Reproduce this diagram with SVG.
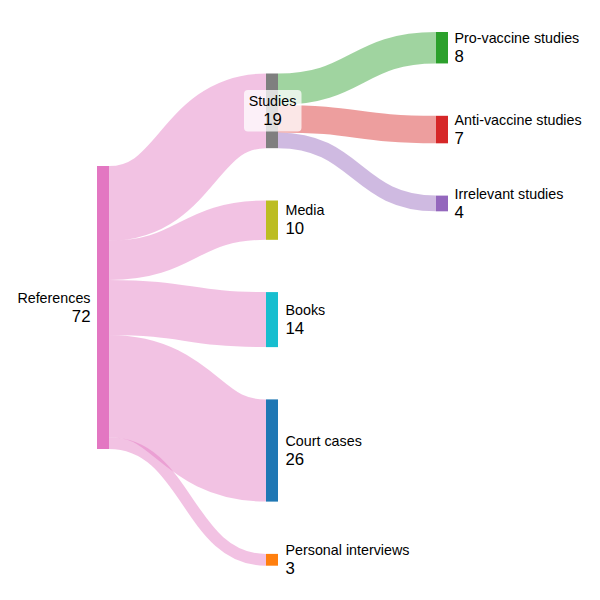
<svg xmlns="http://www.w3.org/2000/svg" width="600" height="600" viewBox="0 0 600 600">
<style>
.lk{fill:none;stroke-opacity:0.45}
.nm{font-family:"Liberation Sans",Arial,sans-serif;font-size:14.3px;fill:#000}
.nv{font-family:"Liberation Sans",Arial,sans-serif;font-size:16.8px;fill:#000}
</style>
<rect width="600" height="600" fill="#ffffff"/>
<g id="links">
<path class="lk" stroke="#e377c2" stroke-width="74.68" d="M109,203.34 C187.5,203.34 187.5,110.85 266,110.85"/>
<path class="lk" stroke="#e377c2" stroke-width="39.31" d="M109,260.34 C187.5,260.34 187.5,220.15 266,220.15"/>
<path class="lk" stroke="#e377c2" stroke-width="55.03" d="M109,307.5 C187.5,307.5 187.5,319.6 266,319.6"/>
<path class="lk" stroke="#e377c2" stroke-width="102.2" d="M109,386.12 C187.5,386.12 187.5,450.5 266,450.5"/>
<path class="lk" stroke="#e377c2" stroke-width="11.79" d="M109,443.12 C187.5,443.12 187.5,559.8 266,559.8"/>
<path class="lk" stroke="#2ca02c" stroke-width="31.44" d="M278,89.22 C357,89.22 357,47.72 436,47.72"/>
<path class="lk" stroke="#d62728" stroke-width="27.51" d="M278,118.7 C357,118.7 357,129.55 436,129.55"/>
<path class="lk" stroke="#9467bd" stroke-width="15.72" d="M278,140.31 C357,140.31 357,203.45 436,203.45"/>
</g>
<g id="node-references">
<rect x="97" y="166" width="12" height="283" fill="#e377c2"/>
<text class="nm" x="90.5" y="302.5" text-anchor="end">References</text>
<text class="nv" x="90.5" y="321.5" text-anchor="end">72</text>
</g>
<g id="node-studies">
<rect x="266" y="73.5" width="12" height="74.68" fill="#7f7f7f"/>
<rect x="244" y="90" width="57.5" height="41.5" rx="4" fill="#ffffff" fill-opacity="0.75"/>
<text class="nm" x="272.5" y="106" text-anchor="middle">Studies</text>
<text class="nv" x="272.5" y="124.5" text-anchor="middle">19</text>
</g>
<g id="node-media">
<rect x="266" y="200.5" width="12" height="39.31" fill="#bcbd22"/>
<text class="nm" x="285.5" y="215.2">Media</text>
<text class="nv" x="285.5" y="234.2">10</text>
</g>
<g id="node-books">
<rect x="266" y="292.1" width="12" height="55.03" fill="#17becf"/>
<text class="nm" x="285.5" y="314.6">Books</text>
<text class="nv" x="285.5" y="333.6">14</text>
</g>
<g id="node-court">
<rect x="266" y="399.4" width="12" height="102.2" fill="#1f77b4"/>
<text class="nm" x="285.5" y="445.5">Court cases</text>
<text class="nv" x="285.5" y="464.5">26</text>
</g>
<g id="node-personal">
<rect x="266" y="553.9" width="12" height="11.79" fill="#ff7f0e"/>
<text class="nm" x="285.5" y="554.8">Personal interviews</text>
<text class="nv" x="285.5" y="573.8">3</text>
</g>
<g id="node-pro">
<rect x="436" y="32" width="12" height="31.44" fill="#2ca02c"/>
<text class="nm" x="454.5" y="42.7">Pro-vaccine studies</text>
<text class="nv" x="454.5" y="61.7">8</text>
</g>
<g id="node-anti">
<rect x="436" y="115.8" width="12" height="27.51" fill="#d62728"/>
<text class="nm" x="454.5" y="124.6">Anti-vaccine studies</text>
<text class="nv" x="454.5" y="143.6">7</text>
</g>
<g id="node-irrelevant">
<rect x="436" y="195.6" width="12" height="15.72" fill="#9467bd"/>
<text class="nm" x="454.5" y="198.5">Irrelevant studies</text>
<text class="nv" x="454.5" y="217.5">4</text>
</g>
</svg>
